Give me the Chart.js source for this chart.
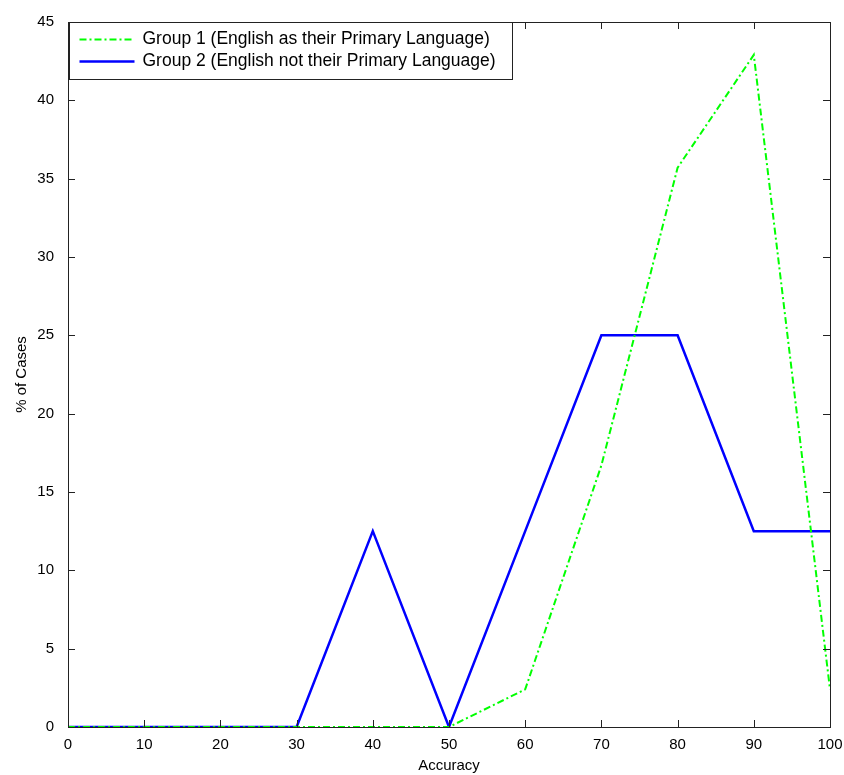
<!DOCTYPE html>
<html>
<head>
<meta charset="utf-8">
<script src="https://cdn.jsdelivr.net/npm/chart.js@4.4.1/dist/chart.umd.min.js"></script>
<style>
  html, body { margin: 0; padding: 0; background: #fff; }
  #wrap { width: 844px; height: 775px; }
</style>
</head>
<body>
<div id="wrap"><canvas id="accuracy-chart"></canvas></div>
<script>
// data
const accuracy = [0, 10, 20, 30, 40, 50, 60, 70, 80, 90, 100];
const group1 = [0, 0, 0, 0, 0, 0, 2.4, 16.7, 35.7, 42.9, 2.4];
const group2 = [0, 0, 0, 0, 12.5, 0, 12.5, 25, 25, 12.5, 12.5];
const seriesLabels = [
    "Group 1 (English as their Primary Language)",
    "Group 2 (English not their Primary Language)",
];
const xTicks = [0, 10, 20, 30, 40, 50, 60, 70, 80, 90, 100];
const yTicks = [0, 5, 10, 15, 20, 25, 30, 35, 40, 45];

const FONT = "'Liberation Sans', Arial, sans-serif";

// box + inward ticks on all four sides, matlab style
const boxPlugin = {
    id: "boxTicks",
    afterDraw(chart) {
        const { ctx, chartArea: a, scales } = chart;
        const len = 7;
        ctx.save();
        ctx.strokeStyle = "#222";
        ctx.lineWidth = 1;
        ctx.beginPath();
        xTicks.forEach((v) => {
            const x = Math.round(scales.x.getPixelForValue(v)) + 0.5;
            ctx.moveTo(x, a.bottom);
            ctx.lineTo(x, a.bottom - len);
            ctx.moveTo(x, a.top);
            ctx.lineTo(x, a.top + len);
        });
        yTicks.forEach((v) => {
            const y = Math.round(scales.y.getPixelForValue(v)) + 0.5;
            ctx.moveTo(a.left, y);
            ctx.lineTo(a.left + len, y);
            ctx.moveTo(a.right, y);
            ctx.lineTo(a.right - len, y);
        });
        ctx.stroke();
        ctx.strokeRect(Math.round(a.left) + 0.5, Math.round(a.top) + 0.5,
            Math.round(a.right - a.left), Math.round(a.bottom - a.top));

        // legend box inside top-left
        const lx = Math.round(a.left) + 1.5, ly = Math.round(a.top) + 0.5;
        const lw = 443, lh = 57;
        ctx.fillStyle = "#fff";
        ctx.fillRect(lx, ly, lw, lh);
        ctx.strokeRect(lx, ly, lw, lh);
        ctx.font = "17.5px " + FONT;
        ctx.textBaseline = "middle";
        chart.data.datasets.forEach((ds, i) => {
            const y = ly + 17 + i * 22;
            ctx.strokeStyle = ds.borderColor;
            ctx.lineWidth = ds.borderWidth;
            ctx.setLineDash(ds.borderDash || []);
            ctx.beginPath();
            ctx.moveTo(lx + 10, y);
            ctx.lineTo(lx + 65, y);
            ctx.stroke();
            ctx.setLineDash([]);
            ctx.fillStyle = "#000";
            ctx.fillText(seriesLabels[i], lx + 73, y);
        });
        ctx.restore();
    },
};

new Chart(document.getElementById("accuracy-chart"), {
    type: "line",
    data: {
        datasets: [
            {
                label: seriesLabels[0],
                data: accuracy.map((x, i) => ({ x, y: group1[i] })),
                borderColor: "rgb(0,255,0)",
                borderWidth: 2,
                borderDash: [7, 3, 2, 3],
                pointRadius: 0,
                tension: 0,
                fill: false,
            },
            {
                label: seriesLabels[1],
                data: accuracy.map((x, i) => ({ x, y: group2[i] })),
                borderColor: "rgb(0,0,255)",
                borderWidth: 2.5,
                pointRadius: 0,
                tension: 0,
                fill: false,
            },
        ],
    },
    options: {
        responsive: true,
        maintainAspectRatio: false,
        animation: false,
        layout: { padding: { top: 22, right: 14, left: 13, bottom: 0 } },
        plugins: {
            legend: { display: false },
            tooltip: { enabled: false },
        },
        scales: {
            x: {
                type: "linear",
                min: 0,
                max: 100,
                afterBuildTicks: (s) => { s.ticks = xTicks.map((v) => ({ value: v })); },
                afterFit: (s) => { s.height = 48; },
                grid: { display: false },
                border: { display: false },
                ticks: { color: "#000", padding: 1, maxRotation: 0, font: { family: FONT, size: 15 } },
                title: {
                    display: true,
                    text: "Accuracy",
                    color: "#000",
                    padding: { top: 0, bottom: 0 },
                    font: { family: FONT, size: 15 },
                },
            },
            y: {
                min: 0,
                max: 45,
                afterBuildTicks: (s) => { s.ticks = yTicks.map((v) => ({ value: v })); },
                afterFit: (s) => { s.width = 55; },
                grid: { display: false },
                border: { display: false },
                ticks: { color: "#000", padding: 6, font: { family: FONT, size: 15 } },
                title: {
                    display: true,
                    text: "% of Cases",
                    color: "#000",
                    padding: { top: 0, bottom: 4 },
                    font: { family: FONT, size: 15 },
                },
            },
        },
    },
    plugins: [boxPlugin],
});
</script>
</body>
</html>
